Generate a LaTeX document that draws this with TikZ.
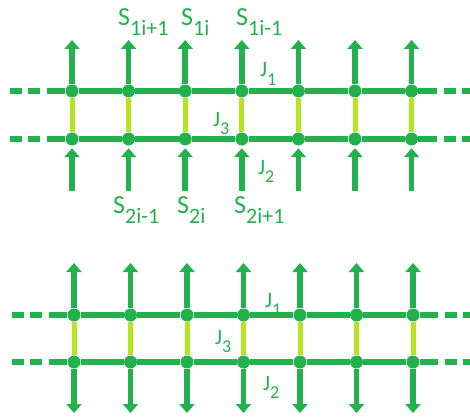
\documentclass[tikz,border=0pt]{standalone}
\usepackage{fontspec}
\setmainfont{Carlito}
\usetikzlibrary{arrows.meta}
\definecolor{chain}{RGB}{34,177,76}
\definecolor{rung}{RGB}{181,230,29}
\newcommand{\spinS}[1]{S\raisebox{-10pt}{\fontsize{22}{22}\selectfont #1}}
\newcommand{\coupJ}[1]{J\raisebox{-8.5pt}{\fontsize{18}{18}\selectfont #1}}

\begin{document}
\begin{tikzpicture}[
    x=1pt, y=-1pt,
    >={Triangle[width=15pt,length=9pt]},
    every node/.style={text=chain, inner sep=0pt},
    site/.style={circle, fill=chain, minimum size=13pt, inner sep=0pt},
    chainline/.style={draw=chain, line width=5.5pt},
    rungline/.style={draw=rung, line width=5pt},
    dashline/.style={chainline, dash pattern=on 12pt off 6pt},
    slbl/.style={anchor=base west, font=\fontsize{26}{26}\selectfont},
    jlbl/.style={anchor=base west, font=\fontsize{22}{22}\selectfont}
]
    \useasboundingbox (0,0) rectangle (470,417);

    % Upper ladder: sites
    \foreach \i in {1,...,7} {
        \pgfmathsetmacro{\x}{72+56.6*(\i-1)}
        \node[site] (ua\i) at (\x,91) {};
        \node[site] (ub\i) at (\x,139) {};
        \coordinate (uat\i) at (\x,40);
        \coordinate (ubt\i) at (\x,191);
    }
    \coordinate (ual) at (47,91);   \coordinate (uar) at (437,91);
    \coordinate (ubl) at (47,139);  \coordinate (ubr) at (437,139);
    \coordinate (uald) at (10,91);  \coordinate (uard) at (444,91);
    \coordinate (ubld) at (10,139); \coordinate (ubrd) at (444,139);

    % Upper ladder: chains
    \draw[chainline] (ual) -- (ua1);
    \draw[chainline] (ubl) -- (ub1);
    \draw[chainline] (ua7) -- (uar);
    \draw[chainline] (ub7) -- (ubr);
    \draw[dashline] (uald) -- ++(31,0);
    \draw[dashline] (ubld) -- ++(31,0);
    \draw[dashline] (uard) -- ++(30,0);
    \draw[dashline] (ubrd) -- ++(30,0);
    \foreach \i [evaluate=\i as \j using int(\i+1)] in {1,...,6} {
        \draw[chainline] (ua\i) -- (ua\j);
        \draw[chainline] (ub\i) -- (ub\j);
    }
    % Upper ladder: rungs and spins
    \foreach \i in {1,...,7} {
        \draw[rungline] (ua\i) -- (ub\i);
        \draw[chainline, ->] (ua\i) -- (uat\i);
        \draw[chainline, ->, shorten >=2.5pt] (ubt\i) -- (ub\i);
    }

    % Upper ladder: labels
    \node[slbl] (s1a) at (118,26) {\spinS{1i+1}};
    \node[slbl] (s1b) at (181,26) {\spinS{1i}};
    \node[slbl] (s1c) at (236,26) {\spinS{1i-1}};
    \node[jlbl] (uj1) at (260,77) {\coupJ{1}};
    \node[jlbl] (uj3) at (213,126) {\coupJ{3}};
    \node[jlbl] (uj2) at (258,174) {\coupJ{2}};
    \node[slbl] (s2a) at (113,213) {\spinS{2i-1}};
    \node[slbl] (s2b) at (177,213) {\spinS{2i}};
    \node[slbl] (s2c) at (234,213) {\spinS{2i+1}};

    % Lower ladder: sites
    \foreach \i in {1,...,7} {
        \pgfmathsetmacro{\x}{74+56.5*(\i-1)}
        \node[site] (la\i) at (\x,315) {};
        \node[site] (lb\i) at (\x,362) {};
        \coordinate (lat\i) at (\x,263);
        \coordinate (lbt\i) at (\x,413);
    }
    \coordinate (lal) at (49,315);  \coordinate (lar) at (438,315);
    \coordinate (lbl) at (49,362);  \coordinate (lbr) at (438,362);
    \coordinate (lald) at (12,315); \coordinate (lard) at (445,315);
    \coordinate (lbld) at (12,362); \coordinate (lbrd) at (445,362);

    % Lower ladder: chains
    \draw[chainline] (lal) -- (la1);
    \draw[chainline] (lbl) -- (lb1);
    \draw[chainline] (la7) -- (lar);
    \draw[chainline] (lb7) -- (lbr);
    \draw[dashline] (lald) -- ++(31,0);
    \draw[dashline] (lbld) -- ++(31,0);
    \draw[dashline] (lard) -- ++(30,0);
    \draw[dashline] (lbrd) -- ++(30,0);
    \foreach \i [evaluate=\i as \j using int(\i+1)] in {1,...,6} {
        \draw[chainline] (la\i) -- (la\j);
        \draw[chainline] (lb\i) -- (lb\j);
    }
    % Lower ladder: rungs and spins
    \foreach \i in {1,...,7} {
        \draw[rungline] (la\i) -- (lb\i);
        \draw[chainline, ->] (la\i) -- (lat\i);
        \draw[chainline, ->] (lb\i) -- (lbt\i);
    }

    % Lower ladder: labels
    \node[jlbl] (lj1) at (265,307) {\coupJ{1}};
    \node[jlbl] (lj3) at (215,344) {\coupJ{3}};
    \node[jlbl] (lj2) at (263,390) {\coupJ{2}};
\end{tikzpicture}
\end{document}
